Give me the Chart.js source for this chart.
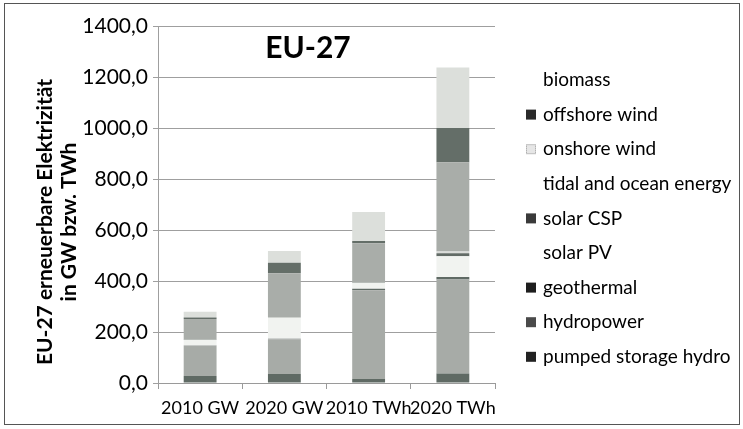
<!DOCTYPE html>
<html>
<head>
<meta charset="utf-8">
<script src="https://cdn.jsdelivr.net/npm/chart.js@4.4.1/dist/chart.umd.min.js"></script>
<style>
  html, body { margin: 0; padding: 0; background: #fff; }
  #wrap { width: 743px; height: 429px; }
</style>
</head>
<body>
<div id="wrap"><canvas id="eu27Chart"></canvas></div>
<script>
const categories = ['2010 GW', '2020 GW', '2010 TWh', '2020 TWh'];

// von unten nach oben gestapelt
const pumpedStorage = [27, 35, 16, 37];
const hydropower = [119, 137, 348, 369];
const geothermal = [1, 2, 6, 10];
const solarPV = [22, 82, 22, 81];
const solarCSP = [1, 1, 1, 12];
const tidal = [0.2, 1, 1, 7];
const onshoreWind = [81, 172, 154, 350];
const offshoreWind = [6, 42, 9, 134];
const biomass = [22, 46, 114, 237];

const yTicks = [0, 200, 400, 600, 800, 1000, 1200, 1400];

const series = [
    { label: 'pumped storage hydro', data: pumpedStorage, color: '#5f6a64', key: '#222222' },
    { label: 'hydropower', data: hydropower, color: '#a7aba7', key: '#4a4a4a' },
    { label: 'geothermal', data: geothermal, color: '#5f6a64', key: '#1e1e1e' },
    { label: 'solar PV', data: solarPV, color: '#f1f3f0', key: null },
    { label: 'solar CSP', data: solarCSP, color: '#626b66', key: '#3a3a3a' },
    { label: 'tidal and ocean energy', data: tidal, color: '#dadcd9', key: null },
    { label: 'onshore wind', data: onshoreWind, color: '#a9ada9', key: '#e6e6e6' },
    { label: 'offshore wind', data: offshoreWind, color: '#646e68', key: '#2a2a2a' },
    { label: 'biomass', data: biomass, color: '#dcdfdb', key: null }
];

const fontFamily = 'Lato, "Open Sans", sans-serif';

// Rahmen, Titel, Achsentitel und Legende rechts
const decorations = {
    id: 'decorations',
    afterDraw(chart) {
        const { ctx, chartArea } = chart;
        ctx.save();
        ctx.strokeStyle = '#555';
        ctx.lineWidth = 1;
        ctx.strokeRect(4.5, 3.5, 735, 421);

        ctx.fillStyle = '#000';
        ctx.textAlign = 'center';
        ctx.textBaseline = 'middle';
        ctx.font = 'bold 30px ' + fontFamily;
        ctx.fillText('EU-27', chartArea.left + 150, chartArea.top + 22);

        // Legende
        ctx.textAlign = 'left';
        ctx.font = '19px ' + fontFamily;
        const items = chart.data.datasets.map((d, i) => i).reverse();
        items.forEach((di, row) => {
            const s = series[di];
            const y = 80 + row * 34.6;
            if (s.key) {
                ctx.fillStyle = s.key;
                ctx.fillRect(526, y - 5, 10, 10);
                if (s.key === '#e6e6e6') {
                    ctx.strokeStyle = '#9a9a9a';
                    ctx.setLineDash([1, 1]);
                    ctx.strokeRect(526.5, y - 4.5, 9, 9);
                    ctx.setLineDash([]);
                }
            }
            ctx.fillStyle = '#000';
            ctx.fillText(chart.data.datasets[di].label, 543, y);
        });

        ctx.textAlign = 'center';
        ctx.translate(45, 222);
        ctx.rotate(-Math.PI / 2);
        ctx.font = 'bold 21px ' + fontFamily;
        ctx.fillText('EU-27 erneuerbare Elektrizität', 0, 0);
        ctx.fillText('in GW bzw. TWh', 0, 24);
        ctx.restore();
    }
};

document.addEventListener('DOMContentLoaded', () => {
    new Chart(document.getElementById('eu27Chart'), {
        type: 'bar',
        data: {
            labels: categories,
            datasets: series.map(s => ({
                label: s.label,
                data: s.data,
                backgroundColor: s.color,
                borderWidth: 0,
                barPercentage: 0.39,
                categoryPercentage: 1
            }))
        },
        options: {
            responsive: true,
            maintainAspectRatio: false,
            animation: false,
            layout: { padding: { left: 81, top: 26, right: 248, bottom: 0 } },
            plugins: {
                title: { display: false },
                tooltip: { enabled: false },
                legend: { display: false }
            },
            scales: {
                x: {
                    stacked: true,
                    grid: { drawOnChartArea: false, tickLength: 6, color: '#9a9a9a' },
                    border: { color: '#9a9a9a' },
                    ticks: { color: '#000', font: { family: fontFamily, size: 18 }, padding: 8, maxRotation: 0, autoSkip: false },
                    afterFit(s) { s.height = 46; }
                },
                y: {
                    stacked: true,
                    min: 0,
                    max: 1400,
                    grid: { color: '#9f9f9f', tickLength: 5 },
                    border: { color: '#9f9f9f' },
                    ticks: {
                        color: '#000',
                        font: { family: fontFamily, size: 21 },
                        padding: 5,
                        callback: v => v.toFixed(1).replace('.', ',')
                    },
                    afterBuildTicks(s) { s.ticks = yTicks.map(v => ({ value: v })); },
                    afterFit(s) { s.width = 77; }
                }
            }
        },
        plugins: [decorations]
    });
});
</script>
</body>
</html>
